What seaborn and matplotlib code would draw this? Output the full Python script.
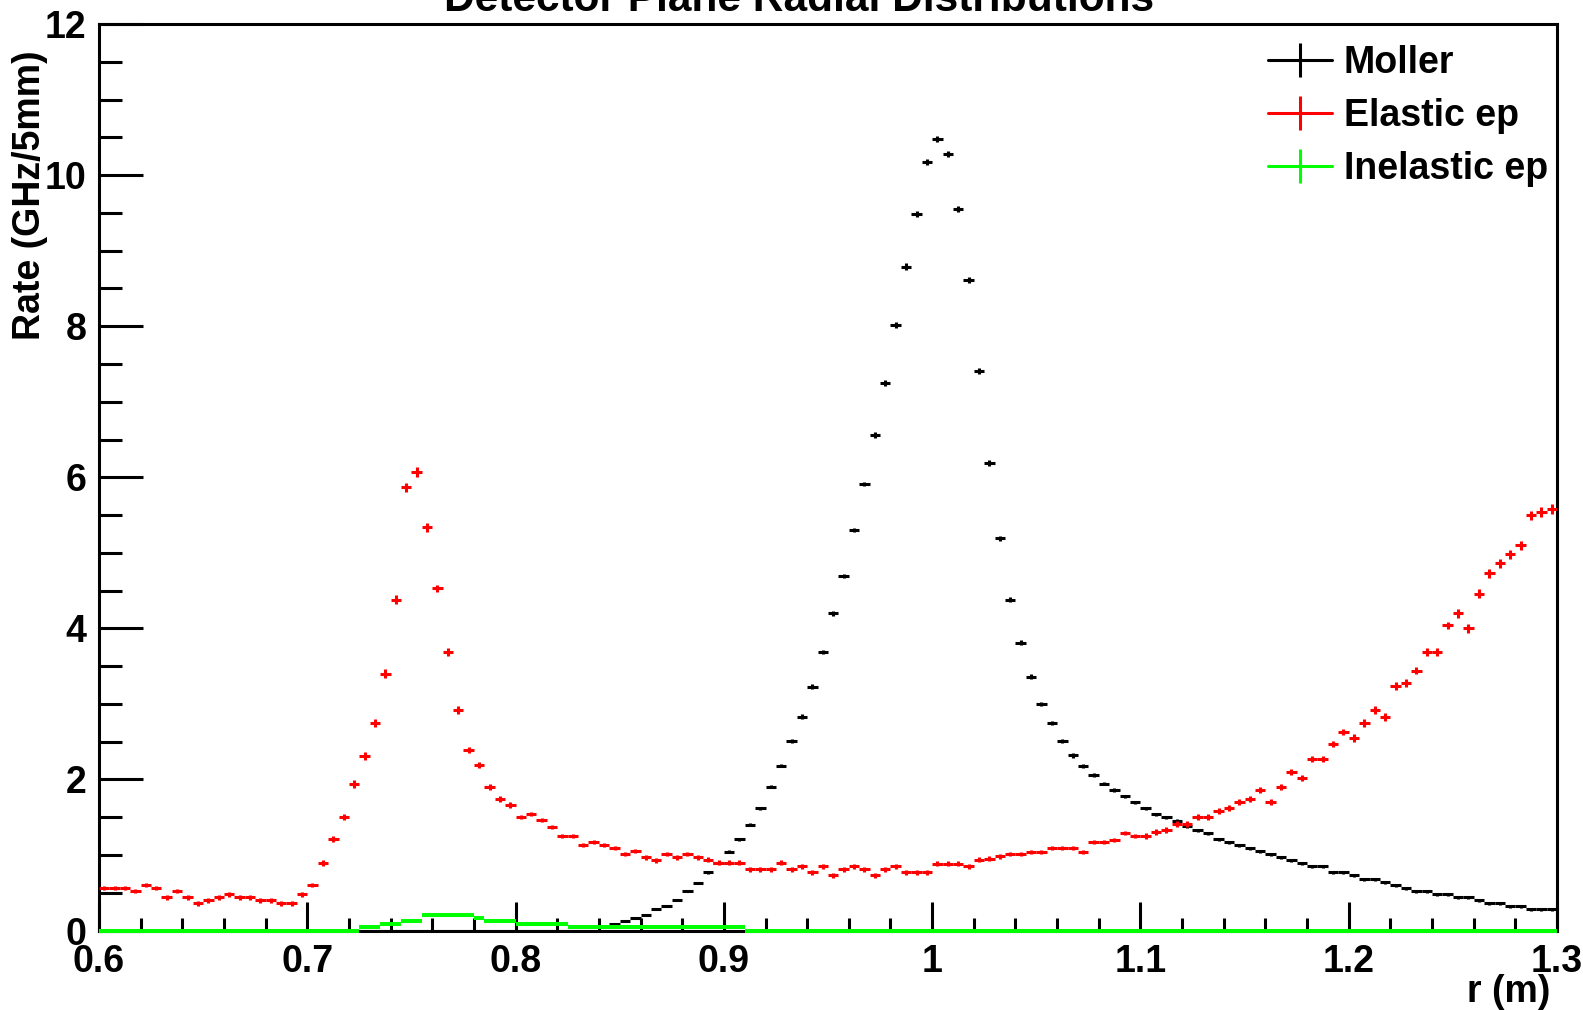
import numpy as np
import pandas as pd
import seaborn as sns
import matplotlib
matplotlib.use("Agg")
import matplotlib.pyplot as plt
from matplotlib.lines import Line2D
from matplotlib.ticker import MultipleLocator

# ---------------- data ----------------
r_min, r_max, bin_width = 0.6, 1.3, 0.005

series_names = ["Moller", "Elastic ep", "Inelastic ep"]
series_colors = ["#000000", "#ff0000", "#00ff00"]

moller = [
    0, 0, 0, 0, 0, 0, 0, 0, 0, 0,
    0, 0, 0, 0, 0, 0, 0, 0, 0, 0,
    0, 0, 0, 0, 0, 0, 0, 0, 0, 0,
    0, 0, 0, 0, 0, 0, 0, 0, 0, 0,
    0, 0, 0, 0, 0, 0, 0, 0, 0, 0.09,
    0.13, 0.17, 0.21, 0.29, 0.33, 0.40, 0.52, 0.63, 0.77, 0.90,
    1.04, 1.21, 1.40, 1.62, 1.90, 2.18, 2.51, 2.83, 3.23, 3.69,
    4.20, 4.69, 5.30, 5.91, 6.56, 7.25, 8.02, 8.79, 9.48, 10.17,
    10.48, 10.28, 9.55, 8.61, 7.41, 6.19, 5.19, 4.38, 3.81, 3.36,
    3.00, 2.75, 2.51, 2.32, 2.18, 2.06, 1.94, 1.86, 1.78, 1.70,
    1.62, 1.54, 1.50, 1.45, 1.38, 1.33, 1.29, 1.21, 1.17, 1.13,
    1.09, 1.05, 1.01, 0.97, 0.93, 0.89, 0.85, 0.85, 0.77, 0.77,
    0.73, 0.68, 0.68, 0.64, 0.60, 0.56, 0.52, 0.52, 0.48, 0.48,
    0.44, 0.44, 0.40, 0.36, 0.36, 0.32, 0.32, 0.28, 0.28, 0.28,
]

elastic = [
    0.56, 0.56, 0.56, 0.52, 0.60, 0.56, 0.44, 0.52, 0.44, 0.36,
    0.40, 0.44, 0.48, 0.44, 0.44, 0.40, 0.40, 0.36, 0.36, 0.48,
    0.60, 0.89, 1.21, 1.50, 1.94, 2.31, 2.75, 3.40, 4.38, 5.87,
    6.07, 5.34, 4.53, 3.69, 2.92, 2.39, 2.19, 1.90, 1.74, 1.66,
    1.50, 1.54, 1.46, 1.37, 1.25, 1.25, 1.13, 1.17, 1.13, 1.09,
    1.01, 1.05, 0.97, 0.93, 1.01, 0.97, 1.01, 0.97, 0.94, 0.90,
    0.90, 0.90, 0.81, 0.81, 0.81, 0.90, 0.81, 0.85, 0.77, 0.85,
    0.73, 0.81, 0.85, 0.81, 0.73, 0.81, 0.85, 0.77, 0.77, 0.77,
    0.885, 0.885, 0.885, 0.85, 0.94, 0.95, 0.98, 1.01, 1.01, 1.04,
    1.04, 1.09, 1.09, 1.09, 1.04, 1.17, 1.17, 1.20, 1.29, 1.25,
    1.25, 1.30, 1.33, 1.41, 1.41, 1.50, 1.50, 1.58, 1.62, 1.70,
    1.74, 1.86, 1.70, 1.90, 2.10, 2.02, 2.27, 2.27, 2.47, 2.63,
    2.55, 2.75, 2.92, 2.83, 3.24, 3.28, 3.44, 3.69, 3.69, 4.04,
    4.20, 4.00, 4.46, 4.73, 4.86, 4.98, 5.10, 5.50, 5.54, 5.58,
]

inelastic = [
    0, 0, 0, 0, 0, 0, 0, 0, 0, 0,
    0, 0, 0, 0, 0, 0, 0, 0, 0, 0,
    0, 0, 0, 0, 0, 0.05, 0.05, 0.09, 0.09, 0.13,
    0.13, 0.21, 0.21, 0.21, 0.21, 0.21, 0.17, 0.13, 0.13, 0.13,
    0.09, 0.09, 0.09, 0.09, 0.09, 0.05, 0.05, 0.05, 0.05, 0.05,
    0.05, 0.05, 0.05, 0.05, 0.05, 0.05, 0.05, 0.05, 0.05, 0.05,
    0.05, 0.05, 0, 0, 0, 0, 0, 0, 0, 0,
    0, 0, 0, 0, 0, 0, 0, 0, 0, 0,
    0, 0, 0, 0, 0, 0, 0, 0, 0, 0,
    0, 0, 0, 0, 0, 0, 0, 0, 0, 0,
    0, 0, 0, 0, 0, 0, 0, 0, 0, 0,
    0, 0, 0, 0, 0, 0, 0, 0, 0, 0,
    0, 0, 0, 0, 0, 0, 0, 0, 0, 0,
    0, 0, 0, 0, 0, 0, 0, 0, 0, 0,
]

# statistical errors
moller_err = ([0.0] * 49 + [0.01] * 9 + [0.02] * 8 + [0.03] * 8 + [0.04] * 12
              + [0.03] * 10 + [0.02] * 44)
elastic_err = ([0.03] * 21 + [0.04] * 3 + [0.05] * 3 + [0.06] * 5 + [0.05] * 3
               + [0.04] * 5 + [0.03] * 60 + [0.04] * 20 + [0.05] * 10 + [0.06] * 10)
inelastic_err = [0.01 if v > 0 else 0.0 for v in inelastic]

xtick_values = [0.6, 0.7, 0.8, 0.9, 1.0, 1.1, 1.2, 1.3]
xtick_labels = ["0.6", "0.7", "0.8", "0.9", "1", "1.1", "1.2", "1.3"]
ytick_values = [0, 2, 4, 6, 8, 10, 12]
ytick_labels = ["0", "2", "4", "6", "8", "10", "12"]

title = "Detector Plane Radial Distributions"
xlabel = "r (m)"
ylabel = "Rate (GHz/5mm)"

# ---------------- table ----------------
n_bins = len(elastic)
centers = r_min + bin_width * (np.arange(n_bins) + 0.5)
frames = []
for name, vals, errs in zip(series_names, [moller, elastic, inelastic],
                            [moller_err, elastic_err, inelastic_err]):
    frames.append(pd.DataFrame({"r": centers, "rate": vals, "err": errs, "series": name}))
df = pd.concat(frames, ignore_index=True)

# ---------------- style ----------------
sns.set_theme(style="white")
plt.rcParams["font.family"] = ["Liberation Sans", "DejaVu Sans"]
plt.rcParams["font.weight"] = "bold"
plt.rcParams["axes.linewidth"] = 2.2
plt.rcParams["text.color"] = "black"
plt.rcParams["axes.labelcolor"] = "black"
plt.rcParams["xtick.color"] = "black"
plt.rcParams["ytick.color"] = "black"

fig = plt.figure(figsize=(15.83, 10.10), dpi=100)
fig.patch.set_facecolor("white")
ax = fig.add_axes([0.06254, 0.0787, 0.92103, 0.8975])
ax.set_facecolor("white")

lw = 2.2
for z, (name, color) in enumerate(zip(series_names, series_colors)):
    d = df[df["series"] == name]
    cont = ax.errorbar(d["r"], d["rate"], xerr=bin_width / 2, yerr=d["err"],
                       fmt="none", ecolor=color, elinewidth=lw, capsize=0,
                       zorder=3 + z)
    if name == "Inelastic ep":
        for col in cont.lines[2]:
            col.set_clip_on(False)
            col.set_linewidth(2.9)

ax.set_xlim(r_min, r_max)
ax.set_ylim(0, 12)
ax.set_xticks(xtick_values)
ax.set_xticklabels(xtick_labels)
ax.set_yticks(ytick_values)
ax.set_yticklabels(ytick_labels)
ax.xaxis.set_minor_locator(MultipleLocator(0.02))
ax.yaxis.set_minor_locator(MultipleLocator(0.5))

for s in ax.spines.values():
    s.set_color("black")
    s.set_linewidth(2.2)

ax.tick_params(axis="both", which="both", direction="in", color="black",
               labelcolor="black", width=2.2, top=False, right=False,
               bottom=True, left=True, labelsize=27)
ax.tick_params(axis="x", which="major", length=21, pad=10)
ax.tick_params(axis="x", which="minor", length=9.5)
ax.tick_params(axis="y", which="major", length=31.5, pad=9)
ax.tick_params(axis="y", which="minor", length=16.5)
for lab in ax.get_xticklabels() + ax.get_yticklabels():
    lab.set_fontweight("bold")

fig.text(0.505, 1 - 11 / 1010, title, ha="center", va="baseline",
         fontsize=30.5, fontweight="bold", color="black")
fig.text(1550 / 1583, 1 - 1002 / 1010, xlabel, ha="right", va="baseline",
         fontsize=27, fontweight="bold", color="black")
fig.text(30 / 1583, 1 - 50 / 1010, ylabel, ha="center", va="top",
         rotation=90, fontsize=27, fontweight="bold", color="black")

handles = [Line2D([], [], color=c, lw=lw, marker="|", markersize=24.5,
                  markeredgewidth=lw) for c in series_colors]
leg = fig.legend(handles, series_names, loc="upper right",
                 bbox_to_anchor=(1548 / 1583, 1 - 45 / 1010),
                 frameon=False, fontsize=27, handlelength=1.7,
                 handletextpad=0.32, labelspacing=0.45, borderpad=0,
                 borderaxespad=0)
for t in leg.get_texts():
    t.set_fontweight("bold")
    t.set_color("black")

fig.savefig("out.png", dpi=100, facecolor="white")
